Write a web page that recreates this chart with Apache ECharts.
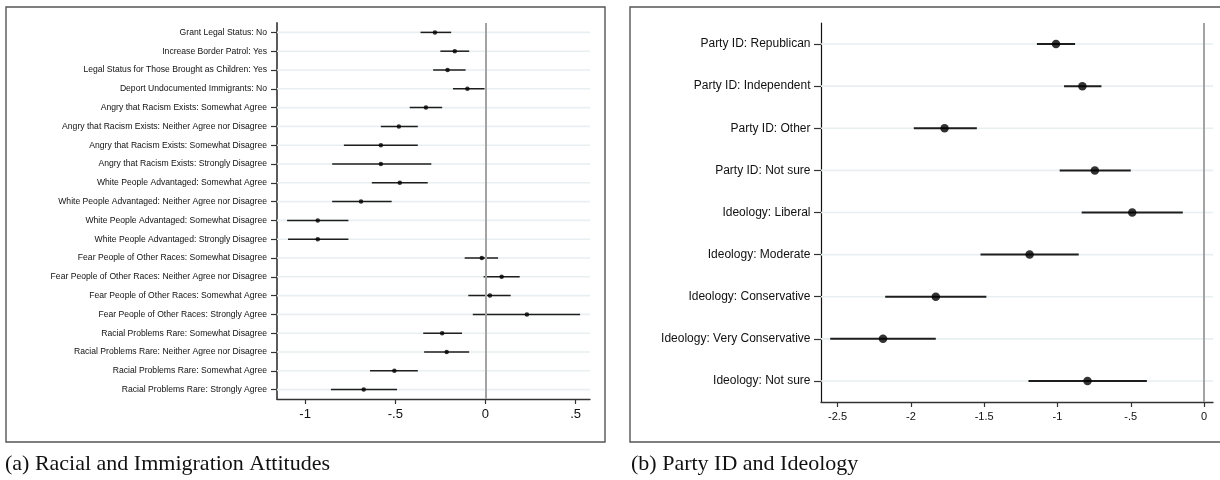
<!DOCTYPE html>
<html>
<head>
<meta charset="utf-8">
<script src="https://cdn.jsdelivr.net/npm/echarts@6/dist/echarts.min.js"></script>
<style>
html,body{margin:0;padding:0;background:#fff;}
#c{width:1220px;height:480px;}
</style>
</head>
<body>
<div id="c"></div>
<script>
const catsA = [
  "Grant Legal Status: No",
  "Increase Border Patrol: Yes",
  "Legal Status for Those Brought as Children: Yes",
  "Deport Undocumented Immigrants: No",
  "Angry that Racism Exists: Somewhat Agree",
  "Angry that Racism Exists: Neither Agree nor Disagree",
  "Angry that Racism Exists: Somewhat Disagree",
  "Angry that Racism Exists: Strongly Disagree",
  "White People Advantaged: Somewhat Agree",
  "White People Advantaged: Neither Agree nor Disagree",
  "White People Advantaged: Somewhat Disagree",
  "White People Advantaged: Strongly Disagree",
  "Fear People of Other Races: Somewhat Disagree",
  "Fear People of Other Races: Neither Agree nor Disagree",
  "Fear People of Other Races: Somewhat Agree",
  "Fear People of Other Races: Strongly Agree",
  "Racial Problems Rare: Somewhat Disagree",
  "Racial Problems Rare: Neither Agree nor Disagree",
  "Racial Problems Rare: Somewhat Agree",
  "Racial Problems Rare: Strongly Agree"
];
const estA = [-0.28, -0.17, -0.21, -0.10, -0.33, -0.48, -0.58, -0.58, -0.475, -0.69, -0.93, -0.93, -0.02, 0.09, 0.025, 0.23, -0.24, -0.215, -0.505, -0.675];
const loA  = [-0.36, -0.25, -0.29, -0.18, -0.42, -0.58, -0.785, -0.85, -0.63, -0.85, -1.10, -1.095, -0.115, -0.01, -0.095, -0.07, -0.345, -0.34, -0.64, -0.857];
const hiA  = [-0.19, -0.09, -0.11, -0.005, -0.24, -0.375, -0.375, -0.30, -0.32, -0.52, -0.76, -0.76, 0.07, 0.19, 0.14, 0.525, -0.13, -0.09, -0.375, -0.49];

const catsB = [
  "Party ID: Republican",
  "Party ID: Independent",
  "Party ID: Other",
  "Party ID: Not sure",
  "Ideology: Liberal",
  "Ideology: Moderate",
  "Ideology: Conservative",
  "Ideology: Very Conservative",
  "Ideology: Not sure"
];
const estB = [-1.01, -0.83, -1.77, -0.745, -0.49, -1.19, -1.83, -2.19, -0.795];
const loB  = [-1.14, -0.955, -1.98, -0.985, -0.835, -1.525, -2.175, -2.55, -1.198];
const hiB  = [-0.88, -0.70, -1.55, -0.50, -0.145, -0.855, -1.485, -1.83, -0.39];

const ticksA = [-1, -0.5, 0, 0.5];
const ticksB = [-2.5, -2, -1.5, -1, -0.5, 0];
const rangeA = [-1.156, 0.58];
const rangeB = [-2.613, 0.061];

const captionA = "(a) Racial and Immigration Attitudes";
const captionB = "(b) Party ID and Ideology";

function fmt(v){
  let s = String(Math.round(v*100)/100);
  return s.replace(/^(-?)0\./, '$1.');
}

const chart = echarts.init(document.getElementById('c'), null, {renderer:'canvas'});

function panelSeries(gi, cats, est, lo, hi, range, ciWidth, dotSize){
  const rowData = cats.map((c,i)=>[i]);
  const ciData = cats.map((c,i)=>[lo[i], hi[i], i]);
  const ptData = cats.map((c,i)=>[est[i], i]);
  return [
    {
      type:'custom', xAxisIndex:gi, yAxisIndex:gi, z:1, silent:true,
      data: rowData,
      encode:{y:0},
      renderItem:function(params, api){
        const i = api.value(0);
        const p1 = api.coord([range[0], i]);
        const p2 = api.coord([range[1], i]);
        return {type:'line', shape:{x1:p1[0], y1:p1[1], x2:p2[0], y2:p2[1]},
          style:{stroke:'#e7eff1', lineWidth:1.6}};
      },
      markLine:{
        silent:true, symbol:'none', animation:false,
        label:{show:false},
        lineStyle:{color:'#a3a3a3', width:2, type:'solid'},
        data:[{xAxis:0}]
      }
    },
    {
      type:'custom', xAxisIndex:gi, yAxisIndex:gi, z:3, silent:true,
      data: ciData,
      encode:{x:[0,1], y:2},
      renderItem:function(params, api){
        const p1 = api.coord([api.value(0), api.value(2)]);
        const p2 = api.coord([api.value(1), api.value(2)]);
        return {type:'line', shape:{x1:p1[0], y1:p1[1], x2:p2[0], y2:p2[1]},
          style:{stroke:'#1e1e1e', lineWidth:ciWidth}};
      }
    },
    {
      type:'scatter', xAxisIndex:gi, yAxisIndex:gi, z:4, silent:true,
      data: ptData,
      symbol:'circle', symbolSize:dotSize,
      itemStyle:{color:'#000'}
    }
  ];
}

function xAxisCfg(gi, range, ticks, fontSize, margin){
  return {
    type:'value', gridIndex:gi, min:range[0], max:range[1],
    axisLine:{show:true, onZero:false, lineStyle:{color:'#333', width:1.3}},
    axisTick:{show:true, inside:false, length:5, customValues:ticks, lineStyle:{color:'#333', width:1.2}},
    axisLabel:{show:true, customValues:ticks, formatter:fmt, color:'#111',
      fontFamily:'Liberation Sans, Arial, sans-serif', fontSize:fontSize, margin:margin},
    splitLine:{show:false}
  };
}
function yAxisCfg(gi, cats, fontSize, margin, tickLen, lineColor, lineWidth){
  return {
    type:'category', gridIndex:gi, data:cats, inverse:true,
    axisLine:{show:true, onZero:false, lineStyle:{color:lineColor, width:lineWidth}},
    axisTick:{show:true, alignWithLabel:true, length:tickLen, lineStyle:{color:'#333', width:1.2}},
    axisLabel:{show:true, interval:0, color:'#111',
      fontFamily:'Liberation Sans, Arial, sans-serif', fontSize:fontSize, margin:margin},
    splitLine:{show:false}
  };
}

const option = {
  backgroundColor:'#fff',
  animation:false,
  grid:[
    {left:277, top:23, width:313, height:376},
    {left:821, top:23, width:392, height:379}
  ],
  xAxis:[
    xAxisCfg(0, rangeA, ticksA, 13, 9),
    xAxisCfg(1, rangeB, ticksB, 11, 9)
  ],
  yAxis:[
    yAxisCfg(0, catsA, 8.6, 10, 6, '#4a4a4a', 1.8),
    yAxisCfg(1, catsB, 12, 10.5, 7, '#111', 1.2)
  ],
  series:[].concat(
    panelSeries(0, catsA, estA, loA, hiA, rangeA, 1.5, 4.5),
    panelSeries(1, catsB, estB, loB, hiB, rangeB, 2, 8.5)
  ),
  graphic:[
    {type:'rect', silent:true, z:0, shape:{x:6, y:7, width:599, height:435},
      style:{fill:'none', stroke:'#555', lineWidth:1.4}},
    {type:'rect', silent:true, z:0, shape:{x:630, y:7, width:600, height:435},
      style:{fill:'none', stroke:'#555', lineWidth:1.4}},
    {type:'text', silent:true, left:5, top:453,
      style:{text:captionA, font:'22px "Liberation Serif", "DejaVu Serif", serif', fill:'#111'}},
    {type:'text', silent:true, left:631, top:453,
      style:{text:captionB, font:'22px "Liberation Serif", "DejaVu Serif", serif', fill:'#111'}}
  ]
};
chart.setOption(option);
</script>
</body>
</html>
